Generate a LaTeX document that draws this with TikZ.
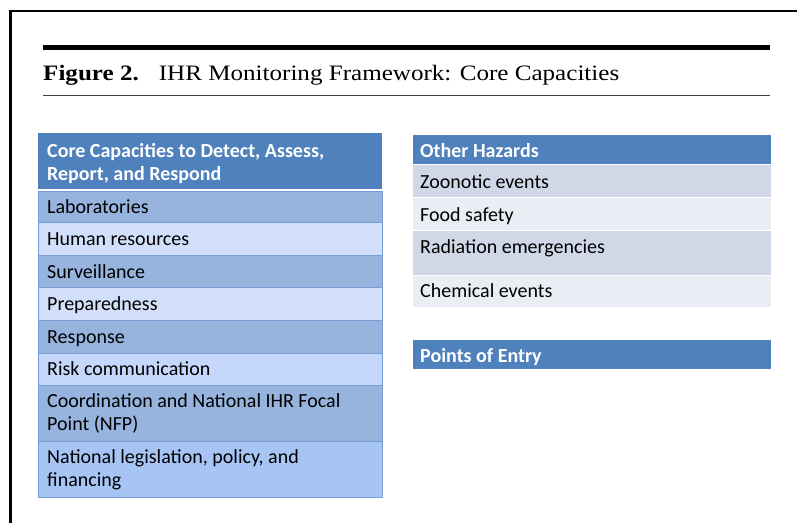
\documentclass[tikz,border=0pt]{standalone}
\usepackage{fontspec}
\setmainfont{Liberation Serif}
\newfontfamily\titlefont[FakeStretch=1.14]{Liberation Serif}
\newfontfamily\calfont{Carlito}
\definecolor{hdr}{RGB}{79,129,189}
\definecolor{darkrow}{RGB}{150,180,222}
\definecolor{lightrow}{RGB}{210,223,250}
\definecolor{riskrow}{RGB}{197,215,250}
\definecolor{natrow}{RGB}{167,197,244}
\definecolor{rowline}{RGB}{120,158,214}
\definecolor{ohA}{RGB}{208,216,232}
\definecolor{ohB}{RGB}{233,237,244}
\tikzset{
  celltxt/.style={anchor=base west,inner sep=0pt,font=\calfont\fontsize{20}{23}\selectfont,align=left},
  hdrtxt/.style={celltxt,text=white,font=\calfont\bfseries\fontsize{20}{23}\selectfont},
  lcell/.style={draw=rowline,line width=0.8pt},
  rcell/.style={draw=white,line width=1pt},
}
\begin{document}
\begin{tikzpicture}[x=1pt,y=-1pt]
\useasboundingbox (0,0) rectangle (797,522);
\fill[white] (0,0) rectangle (797,522);
% frame
\draw[line width=2.5pt] (10.5,530) -- (10.5,11) -- (800,11);
% rules
\fill[black] (43,45) rectangle (770,50);
\fill[black!75] (43,94.5) rectangle (770,96);
\node[anchor=base west,inner sep=0pt,font=\titlefont\fontsize{22}{24}\selectfont] (title) at (43,80)
  {\textbf{Figure 2.}\hspace{20pt}IHR Monitoring Framework: Core Capacities};
% left table
\fill[hdr] (38,133) rectangle (382,189);
\draw[white,line width=1.2pt] (38,190) -- (382,190);
\draw[lcell,fill=darkrow]  (38,191) rectangle (382,222);
\draw[lcell,fill=lightrow] (38,222) rectangle (382,255);
\draw[lcell,fill=darkrow]  (38,255) rectangle (382,287);
\draw[lcell,fill=lightrow] (38,287) rectangle (382,320);
\draw[lcell,fill=darkrow]  (38,320) rectangle (382,353);
\draw[lcell,fill=riskrow]  (38,353) rectangle (382,385);
\draw[lcell,fill=darkrow]  (38,385) rectangle (382,441);
\draw[lcell,fill=natrow]   (38,441) rectangle (382,497);
\node[hdrtxt] (lh1) at (47,157) {Core Capacities to Detect, Assess,};
\node[hdrtxt] (lh2) at (47,180) {Report, and Respond};
\node[celltxt] (lab) at (47,213) {Laboratories};
\node[celltxt] (hum) at (47,245.5) {Human resources};
\node[celltxt] (sur) at (47,278) {Surveillance};
\node[celltxt] (pre) at (47,310.5) {Preparedness};
\node[celltxt] (res) at (47,343) {Response};
\node[celltxt] (ris) at (47,375.5) {Risk communication};
\node[celltxt] (co1) at (47,407.5) {Coordination and National IHR Focal};
\node[celltxt] (co2) at (47,430.5) {Point (NFP)};
\node[celltxt] (na1) at (47,463.5) {National legislation, policy, and};
\node[celltxt] (na2) at (47,486.5) {financing};
% right table
\draw[rcell,fill=hdr] (412.5,134.5) rectangle (771.5,164);
\draw[rcell,fill=ohA] (412.5,164) rectangle (771.5,197.5);
\draw[rcell,fill=ohB] (412.5,197.5) rectangle (771.5,230);
\draw[rcell,fill=ohA] (412.5,230) rectangle (771.5,275);
\draw[rcell,fill=ohB] (412.5,275) rectangle (771.5,307);
\draw[rcell,fill=hdr] (412.5,339.5) rectangle (771.5,369.5);
\node[hdrtxt] (oh) at (420,157) {Other Hazards};
\node[celltxt] (zoo) at (420,188.5) {Zoonotic events};
\node[celltxt] (foo) at (420,221) {Food safety};
\node[celltxt] (rad) at (420,253) {Radiation emergencies};
\node[celltxt] (che) at (420,297.5) {Chemical events};
\node[hdrtxt] (poe) at (420,362) {Points of Entry};
\end{tikzpicture}
\end{document}
